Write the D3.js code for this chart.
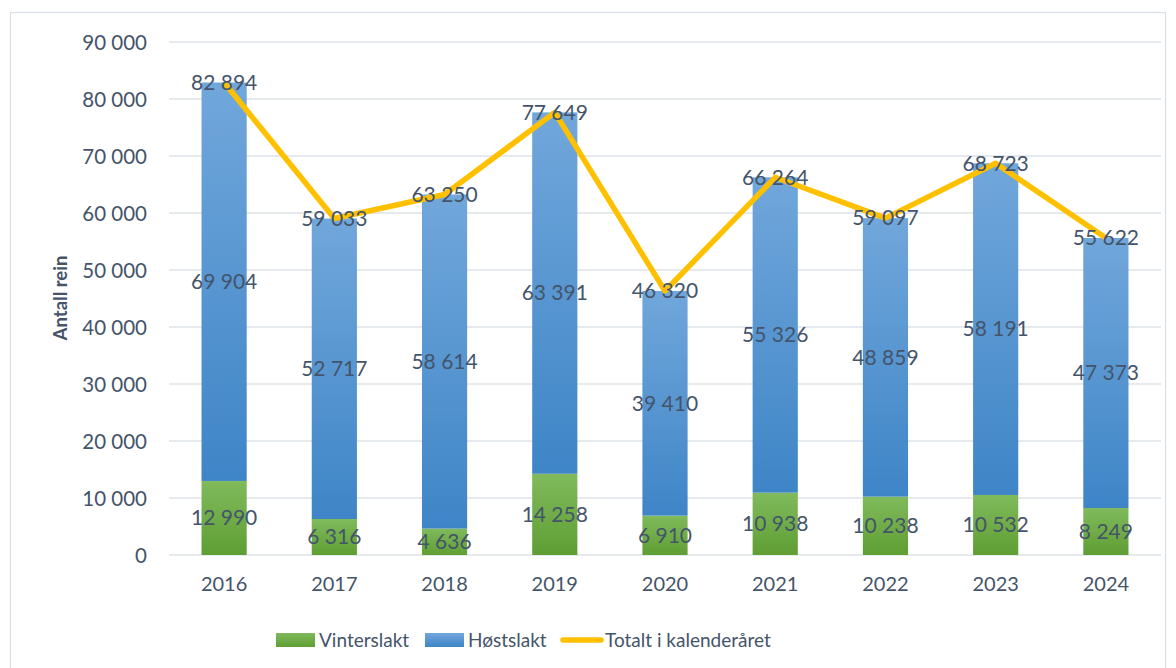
<!DOCTYPE html>
<html><head><meta charset="utf-8">
<script src="https://cdn.jsdelivr.net/npm/d3@7"></script>
<style>body{margin:0;background:#fff;} text{font-family:Lato, "Open Sans", sans-serif;}</style>
</head><body>
<svg id="c" width="1176" height="668"></svg>
<script>
const years = ["2016","2017","2018","2019","2020","2021","2022","2023","2024"];
const vinterslakt = [12990, 6316, 4636, 14258, 6910, 10938, 10238, 10532, 8249];
const hostslakt = [69904, 52717, 58614, 63391, 39410, 55326, 48859, 58191, 47373];
const totalt = [82894, 59033, 63250, 77649, 46320, 66264, 59097, 68723, 55622];
const yTicks = [0,10000,20000,30000,40000,50000,60000,70000,80000,90000];
const seriesNames = ["Vinterslakt","Høstslakt","Totalt i kalenderåret"];

const svg = d3.select("#c");
const txt = "#44546A";
const fmt = v => d3.format(",")(v).replace(/,/g," ");

svg.append("rect").attr("x",10.5).attr("y",12.5).attr("width",1155).attr("height",660)
  .attr("fill","none").attr("stroke","#D9DEE5").attr("stroke-width",1.2);

const defs = svg.append("defs");
const gG = defs.append("linearGradient").attr("id","gGreen").attr("x1",0).attr("y1",0).attr("x2",0).attr("y2",1);
gG.append("stop").attr("offset","0%").attr("stop-color","#80BA5C");
gG.append("stop").attr("offset","100%").attr("stop-color","#5F9E33");
const gB = defs.append("linearGradient").attr("id","gBlue").attr("x1",0).attr("y1",0).attr("x2",0).attr("y2",1);
gB.append("stop").attr("offset","0%").attr("stop-color","#71A7DB");
gB.append("stop").attr("offset","100%").attr("stop-color","#3E85C7");

const x = d3.scaleBand().domain(years).range([169,1161]).paddingInner(0.59).paddingOuter(0.295);
const y = d3.scaleLinear().domain([0,90000]).range([555,42]);

// grid
svg.append("g").selectAll("line").data(yTicks).join("line")
  .attr("x1",169).attr("x2",1161).attr("y1",d=>y(d)).attr("y2",d=>y(d))
  .attr("stroke","#DEE2E8").attr("stroke-width",1.5);

// y axis labels
const yAxis = d3.axisLeft(y).tickValues(yTicks).tickFormat(fmt).tickSize(0).tickPadding(0);
const ya = svg.append("g").attr("transform","translate(147,0)").call(yAxis);
ya.select(".domain").remove();
ya.selectAll("text").attr("fill",txt).style("font-size","20.5px").attr("dy","0.35em");

// x axis labels
const xAxis = d3.axisBottom(x).tickSize(0).tickPadding(0);
const xa = svg.append("g").attr("transform","translate(0,577)").call(xAxis);
xa.select(".domain").remove();
xa.selectAll("text").attr("fill",txt).style("font-size","20px").attr("dy","0.71em");

// axis title
svg.append("text").attr("transform","translate(67,298) rotate(-90)").attr("text-anchor","middle")
  .attr("fill",txt).style("font-size","18.5px").style("font-weight","bold").text("Antall rein");

const bw = x.bandwidth();
// bars
svg.append("g").selectAll("rect").data(years).join("rect")
  .attr("x",d=>x(d)).attr("width",bw)
  .attr("y",(d,i)=>y(vinterslakt[i])).attr("height",(d,i)=>y(0)-y(vinterslakt[i]))
  .attr("fill","url(#gGreen)");
svg.append("g").selectAll("rect").data(years).join("rect")
  .attr("x",d=>x(d)).attr("width",bw)
  .attr("y",(d,i)=>y(vinterslakt[i]+hostslakt[i])).attr("height",(d,i)=>y(vinterslakt[i])-y(vinterslakt[i]+hostslakt[i]))
  .attr("fill","url(#gBlue)");

// line
const line = d3.line().x((d,i)=>x(years[i])+bw/2).y(d=>y(d));
svg.append("path").datum(totalt).attr("d",line).attr("fill","none")
  .attr("stroke","#FFC000").attr("stroke-width",5.5).attr("stroke-linejoin","round");

// labels
const lab = svg.append("g").attr("fill",txt).style("font-size","21px").attr("text-anchor","middle");
years.forEach((yr,i)=>{
  const cx = x(yr)+bw/2;
  lab.append("text").attr("x",cx).attr("y",(y(0)+y(vinterslakt[i]))/2).attr("dy","0.35em").text(fmt(vinterslakt[i]));
  lab.append("text").attr("x",cx).attr("y",(y(vinterslakt[i])+y(vinterslakt[i]+hostslakt[i]))/2).attr("dy","0.35em").text(fmt(hostslakt[i]));
  lab.append("text").attr("x",cx).attr("y",y(totalt[i])).attr("dy","0.35em").text(fmt(totalt[i]));
});

// legend
const lg = svg.append("g").style("font-size","19px").attr("fill",txt);
lg.append("rect").attr("x",276).attr("y",633).attr("width",39).attr("height",14).attr("fill","url(#gGreen)");
lg.append("text").attr("x",319).attr("y",640).attr("dy","0.35em").text(seriesNames[0]);
lg.append("rect").attr("x",425).attr("y",633).attr("width",39).attr("height",14).attr("fill","url(#gBlue)");
lg.append("text").attr("x",468).attr("y",640).attr("dy","0.35em").text(seriesNames[1]);
lg.append("line").attr("x1",563).attr("x2",601).attr("y1",640).attr("y2",640).attr("stroke","#FFC000").attr("stroke-width",5.5).attr("stroke-linecap","round");
lg.append("text").attr("x",605).attr("y",640).attr("dy","0.35em").text(seriesNames[2]);
</script>
</body></html>
